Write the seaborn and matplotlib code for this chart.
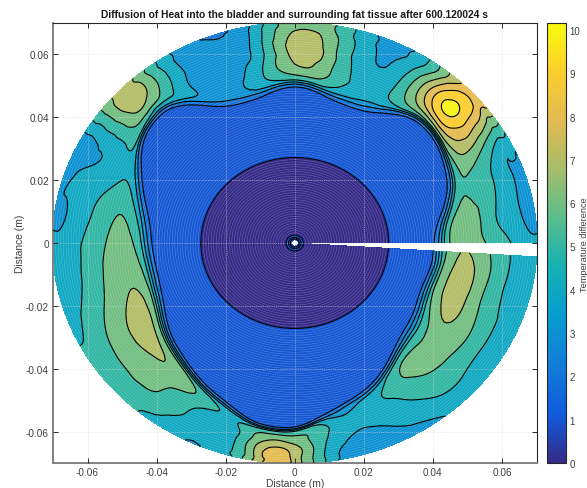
import numpy as np
import matplotlib
matplotlib.use("Agg")
import matplotlib.pyplot as plt
import matplotlib.tri as mtri
import seaborn as sns

# parula anchors
parula_colors = [(.2081, .1663, .5292), (.0591, .3598, .8683), (.0723, .4887, .8467),
                 (.0265, .6137, .8135), (.0843, .6928, .7062), (.3482, .7424, .5473),
                 (.6473, .7456, .4188), (.8824, .7274, .3217), (.9880, .8066, .1794),
                 (.9763, .9831, .0538)]

title = "Diffusion of Heat into the bladder and surrounding fat tissue after 600.120024 s"
levels = [0, 1, 2, 3, 4, 5, 6, 7, 8, 9, 10, 11]
ticks = [-0.06, -0.04, -0.02, 0, 0.02, 0.04, 0.06]
tick_labels = ["-0.06", "-0.04", "-0.02", "0", "0.02", "0.04", "0.06"]
outer_radius = 0.0702

# angles of the table (deg), the mesh stops short of 360
angles = [0, 10, 20, 30, 40, 45, 50, 60, 70, 80, 90, 100, 110, 120, 130, 135, 140, 150, 160, 170, 180,
          190, 200, 210, 220, 230, 240, 250, 255, 260, 265, 270, 275, 280, 290, 300, 310, 320, 330, 340,
          350, 356.4]

# bladder wall radius at each angle
wall = [.0405, .0425, .047, .05, .0522, .0525, .052, .048, .0463, .0478, .0498, .048, .0472, .0505, .056,
        .0563, .0556, .0515, .0467, .043, .0415, .041, .0415, .0435, .0465, .049, .052, .055, .057,
        .0585, .059, .0587, .057, .055, .052, .0488, .0446, .042, .0405, .0395, .0402, .0402]

# rows inside the bladder: radius and temperature
inner_r = [.001, .0015, .0021, .0029, .0036, .008, .0255, .0272, .029]
inner_t = [1.3, .7, 1.3, .7, .6, .5, .7, 1.0, 1.3]
wall_t = [1.6, 2.1]

# rows in the fat tissue, fraction of the way from wall to rim
fat_s = [.11, .35, .6, .85, 1.0]
fat_t = [
    [5.5, 6.6, 5.6, 4.5, 4.1],     # 0
    [5.5, 6.3, 5, 4, 3.7],
    [5.2, 5.7, 5, 4, 3.6],
    [5.6, 7, 6.3, 5.2, 5],
    [6.5, 9.3, 9.7, 9, 8.7],
    [6, 9.5, 10.2, 9.2, 8.3],      # 45
    [5.5, 8, 8.6, 7.5, 7.1],
    [4.1, 5, 4.8, 4.3, 4.05],
    [4, 4.7, 4.3, 4.1, 4.0],
    [4.9, 6.2, 6.4, 6.2, 6],
    [5.2, 7, 7.5, 7.1, 6.7],       # 90
    [4.3, 4.9, 4.5, 4.4, 4.2],
    [3.5, 3.5, 3.4, 3.1, 2.85],
    [3.6, 3.8, 3.9, 3.8, 3.8],
    [4, 6, 6.6, 6.6, 6.5],
    [4.5, 6.8, 7.5, 7.6, 7.5],     # 135
    [5, 6.5, 6.9, 7, 6.8],
    [4.4, 4.5, 4.3, 4.0, 3.95],
    [4.5, 5, 4.4, 4, 3.6],
    [4.8, 5.95, 5, 4.1, 3.9],
    [5.2, 6.4, 5.4, 4.5, 4.2],     # 180
    [5.6, 6.6, 5.7, 4.5, 4.3],
    [6, 7, 6, 5, 4.5],
    [6.3, 7.4, 6.4, 5.4, 5.1],
    [6.3, 7, 6.3, 5.5, 5.2],
    [6.1, 6.4, 6, 5.4, 5],
    [5.4, 5.4, 4.95, 4.4, 4.2],
    [4.5, 4.5, 4.4, 4.3, 4.2],
    [4.6, 5, 5.1, 5.1, 5.0],       # 255
    [5, 6.3, 7, 7, 7.1],
    [5.1, 7, 8.2, 8.7, 8.7],
    [5.1, 6.5, 7.5, 7.6, 7.6],     # 270
    [5, 5.8, 5.9, 5.8, 5.8],
    [4, 4.9, 4.6, 4.2, 4.1],
    [4, 4.4, 3.95, 3.6, 3.4],
    [4.8, 5.1, 4.5, 4, 3.6],
    [5.5, 6.2, 5.5, 4.7, 4.1],
    [5, 6.4, 5.8, 4.8, 4.3],
    [5.5, 7, 6, 4.7, 4.2],
    [6, 7.4, 5.8, 4.7, 4.2],
    [6, 7.3, 5.8, 4.6, 4.2],
    [5.8, 7.0, 5.7, 4.6, 4.0],     # 356.4
]

sns.set_theme(style="ticks")
plt.rcParams["font.family"] = ["Liberation Sans", "DejaVu Sans"]

cmap = sns.blend_palette(parula_colors, n_colors=256, as_cmap=True)
norm = plt.Normalize(0, 10.16)

# table on an (angle, row) mesh, refined there so rim and wall stay round
n_in = len(inner_r) + len(wall_t)
t_grid = np.array([inner_t + wall_t + list(col) for col in fat_t])
n_a, n_r = t_grid.shape
uu, vv = np.meshgrid(np.array(angles) / 10, np.arange(n_r), indexing="ij")
tris = []
for i in range(n_a - 1):
    for j in range(n_r - 1):
        p = i * n_r + j
        tris.append([p, p + n_r, p + n_r + 1])
        tris.append([p, p + n_r + 1, p + 1])
tri = mtri.Triangulation(uu.ravel(), vv.ravel(), tris)
refiner = mtri.UniformTriRefiner(tri)

z = t_grid.ravel()
wall_field = np.repeat(wall, n_r)
tri_f, z_cubic = refiner.refine_field(z, triinterpolator=mtri.CubicTriInterpolator(tri, z, kind="min_E"), subdiv=3)
_, z_line = refiner.refine_field(z, triinterpolator=mtri.LinearTriInterpolator(tri, z), subdiv=3)
_, wall_f = refiner.refine_field(wall_field, triinterpolator=mtri.CubicTriInterpolator(tri, wall_field, kind="min_E"), subdiv=3)

# row number to radius: fixed rows inside, rows tied to the wall outside
row_a = np.array(inner_r + [0, 0] + [s * outer_radius for s in fat_s])
row_b = np.array([0] * len(inner_r) + [.985, 1] + [1 - s for s in fat_s])
rows = np.arange(n_r)
r_f = np.interp(tri_f.y, rows, row_a) + np.interp(tri_f.y, rows, row_b) * wall_f
th_f = np.radians(tri_f.x * 10)
x_f = r_f * np.cos(th_f)
y_f = r_f * np.sin(th_f)
z_f = np.where(tri_f.y < n_in - 1, z_line, z_cubic)
tri_xy = mtri.Triangulation(x_f, y_f, tri_f.triangles)

fig = plt.figure(figsize=(5.87, 4.89), dpi=100)
ax = fig.add_axes([53 / 587, 1 - 464 / 489, 483.5 / 587, 440 / 489])

band_colors = [cmap(norm(v)) for v in levels[:-1]]
ax.tricontourf(tri_xy, z_f, levels=levels, colors=band_colors)

# mesh rings give the moire of the original surface
arc = np.radians(np.linspace(0, 356.4, 300))
for rr in np.arange(.001, outer_radius, .00075):
    ax.plot(rr * np.cos(arc), rr * np.sin(arc), color="white", lw=.35, alpha=.3, zorder=2)

ax.tricontour(tri_xy, z_f, levels=levels[1:-1], colors="black", linewidths=.8, zorder=3)

ax.set_xlim(-.07, .07)
ax.set_ylim(-.07, .07)
ax.set_xticks(ticks, tick_labels)
ax.set_yticks(ticks, tick_labels)
ax.tick_params(direction="in", top=True, right=True, length=3.5, width=.7, labelsize=7.2,
               labelcolor="#404040", color="#262626", pad=3)
ax.grid(True, ls=":", lw=.5, color="#d8d8d8", zorder=4)
ax.set_axisbelow(False)
for side in ["left", "bottom"]:
    ax.spines[side].set_color("#808080")
    ax.spines[side].set_linewidth(1.4)
for side in ["top", "right"]:
    ax.spines[side].set_color("#262626")
    ax.spines[side].set_linewidth(.8)
ax.set_xlabel("Distance (m)", fontsize=7.4, color="#404040", labelpad=0.5)
ax.set_ylabel("Distance (m)", fontsize=7.4, color="#404040", labelpad=0.5)
ax.set_title(title, fontsize=7.35, fontweight="bold", color="#1a1a1a", pad=4)

cax = fig.add_axes([547 / 587, 1 - 464 / 489, 18.5 / 587, 440 / 489])
sm = plt.cm.ScalarMappable(norm=norm, cmap=cmap)
cb = fig.colorbar(sm, cax=cax)
cb.set_ticks(range(0, 11))
cb.ax.tick_params(direction="in", length=3, width=.7, labelsize=7, labelcolor="#404040", pad=3)
cb.outline.set_linewidth(.8)
fig.text(584.5 / 587, 1 - 245 / 489, "Temperature difference", rotation=90, fontsize=6.6,
         color="#404040", ha="center", va="center")

fig.savefig("out.png", dpi=100)
